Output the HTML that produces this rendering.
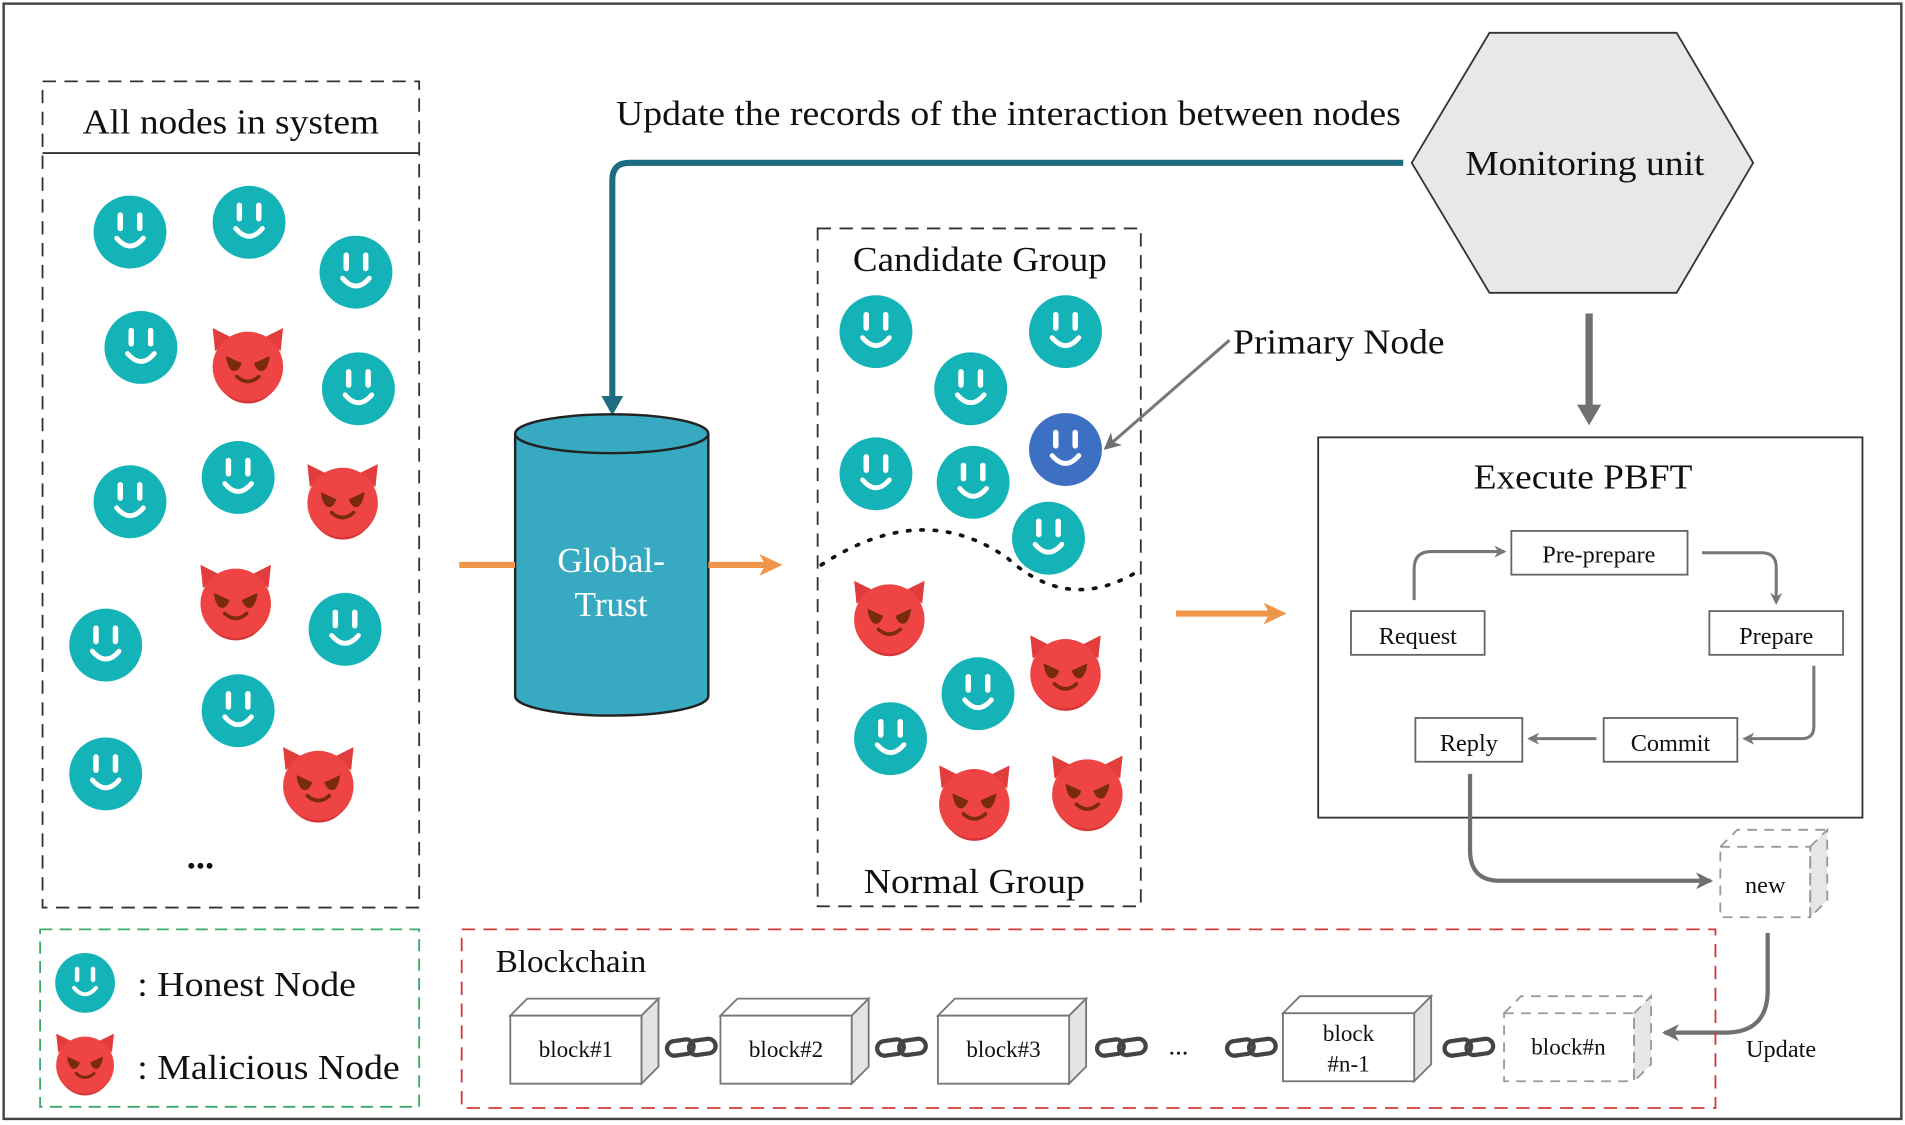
<!DOCTYPE html>
<html><head><meta charset="utf-8"><style>
html,body{margin:0;padding:0;background:#fff;}
svg{display:block;}
text{font-family:"Liberation Serif",serif;fill:#111;}
</style></head><body>
<svg width="1905" height="1125" viewBox="0 0 1568 926" xmlns="http://www.w3.org/2000/svg">
<defs>
<g id="sm">
<circle r="30" fill="#13b3b8"/>
<line x1="-8" y1="-14" x2="-8" y2="-3" stroke="#fff" stroke-width="4.5" stroke-linecap="round"/>
<line x1="8" y1="-14" x2="8" y2="-3" stroke="#fff" stroke-width="4.5" stroke-linecap="round"/>
<path d="M-11 5 Q0 18 11 5" fill="none" stroke="#fff" stroke-width="4" stroke-linecap="round"/>
</g>
<g id="smb">
<circle r="30" fill="#3d6fc2"/>
<line x1="-8" y1="-14" x2="-8" y2="-3" stroke="#fff" stroke-width="4.5" stroke-linecap="round"/>
<line x1="8" y1="-14" x2="8" y2="-3" stroke="#fff" stroke-width="4.5" stroke-linecap="round"/>
<path d="M-11 5 Q0 18 11 5" fill="none" stroke="#fff" stroke-width="4" stroke-linecap="round"/>
</g>
<g id="dv">
<path d="M-27 -13 L-29 -32 L-13 -24 Z" fill="#e23d3d"/>
<path d="M27 -13 L29 -32 L13 -24 Z" fill="#e23d3d"/>
<circle r="29" fill="#ee4444"/>
<path d="M-22 18 A29 29 0 0 0 22 18 A26 26 0 0 1 -22 18Z" fill="#d63636"/>
<path d="M-18 -9 L-5 -3 Q-8 5 -13 3 Q-17 0 -18 -9Z" fill="#7a2a0e"/>
<path d="M18 -9 L5 -3 Q8 5 13 3 Q17 0 18 -9Z" fill="#7a2a0e"/>
<path d="M-9 8 Q0 16 9 8" fill="none" stroke="#7a2a0e" stroke-width="3" stroke-linecap="round"/>
</g>
<g id="ch" fill="none" stroke="#444" stroke-width="3.5">
<rect x="-20" y="-7" width="22" height="12" rx="6" transform="rotate(-8)"/>
<rect x="-2" y="-5" width="22" height="12" rx="6" transform="rotate(-8)"/>
</g>
<marker id="ga" markerWidth="10" markerHeight="10" refX="8" refY="5" orient="auto" markerUnits="userSpaceOnUse"><path d="M0 0 L10 5 L0 10 L3 5Z" fill="#777"/></marker>
<marker id="gb" markerWidth="14" markerHeight="14" refX="12" refY="7" orient="auto" markerUnits="userSpaceOnUse"><path d="M0 0 L14 7 L0 14 L4 7Z" fill="#707070"/></marker>
</defs>
<rect x="3" y="3" width="1562" height="918" fill="#fff" stroke="#444" stroke-width="2"/>

<rect x="35" y="67" width="310" height="680" fill="none" stroke="#333" stroke-width="1.5" stroke-dasharray="11 7"/>
<line x1="35" y1="126" x2="345" y2="126" stroke="#333" stroke-width="1.5"/>
<text x="68" y="110" font-size="29" textLength="244" lengthAdjust="spacingAndGlyphs">All nodes in system</text>
<use href="#sm" x="107" y="191"/><use href="#sm" x="205" y="183"/><use href="#sm" x="293" y="224"/>
<use href="#sm" x="116" y="286"/><use href="#dv" x="204" y="302"/><use href="#sm" x="295" y="320"/>
<use href="#sm" x="107" y="413"/><use href="#sm" x="196" y="393"/><use href="#dv" x="282" y="414"/>
<use href="#dv" x="194" y="497"/><use href="#sm" x="87" y="531"/><use href="#sm" x="284" y="518"/>
<use href="#sm" x="196" y="585"/><use href="#sm" x="87" y="637"/><use href="#dv" x="262" y="647"/>
<text x="165" y="715" font-size="30" text-anchor="middle" font-weight="bold">...</text>

<rect x="33" y="765" width="312" height="146" fill="none" stroke="#3aaa6a" stroke-width="1.5" stroke-dasharray="10 6"/>
<use href="#sm" transform="translate(70 809) scale(0.82)"/>
<text x="113" y="820" font-size="29" textLength="180" lengthAdjust="spacingAndGlyphs">: Honest Node</text>
<use href="#dv" transform="translate(70 877) scale(0.82)"/>
<text x="113" y="888" font-size="29" textLength="216" lengthAdjust="spacingAndGlyphs">: Malicious Node</text>

<text x="507" y="103" font-size="29" textLength="646" lengthAdjust="spacingAndGlyphs">Update the records of the interaction between nodes</text>
<path d="M1155 134 L518 134 Q504 134 504 148 L504 330" fill="none" stroke="#1e6c80" stroke-width="5"/>
<path d="M495 326 L513 326 L504 342Z" fill="#1e6c80"/>

<polygon points="1162,134 1226,27 1380,27 1443,134 1380,241 1226,241" fill="#e8e8e8" stroke="#333" stroke-width="1.5"/>
<text x="1206" y="144" font-size="29" textLength="197" lengthAdjust="spacingAndGlyphs">Monitoring unit</text>
<line x1="1308" y1="258" x2="1308" y2="336" stroke="#707070" stroke-width="6"/>
<path d="M1298 333 L1318 333 L1308 350Z" fill="#707070"/>

<path d="M424 357 L424 573 A79.5 16 0 0 0 583 573 L583 357" fill="#37aac2" stroke="#222" stroke-width="2"/>
<ellipse cx="503.5" cy="357" rx="79.5" ry="16" fill="#37aac2" stroke="#222" stroke-width="2"/>
<text x="503" y="471" font-size="29" text-anchor="middle" style="fill:#fff">Global-</text>
<text x="503" y="507" font-size="29" text-anchor="middle" style="fill:#fff">Trust</text>
<line x1="378" y1="465" x2="424" y2="465" stroke="#f0964a" stroke-width="5"/>
<line x1="583" y1="465" x2="634" y2="465" stroke="#f0964a" stroke-width="5"/>
<path d="M625 456 L644 465 L625 474 L630 465Z" fill="#f0964a"/>

<rect x="673" y="188" width="266" height="558" fill="none" stroke="#333" stroke-width="1.5" stroke-dasharray="11 7"/>
<text x="702" y="223" font-size="29" textLength="209" lengthAdjust="spacingAndGlyphs">Candidate Group</text>
<text x="711" y="735" font-size="29" textLength="182" lengthAdjust="spacingAndGlyphs">Normal Group</text>
<path d="M676 465 Q760 410 830 460 Q880 505 937 470" fill="none" stroke="#111" stroke-width="3" stroke-dasharray="2 9" stroke-linecap="round"/>
<use href="#sm" x="721" y="273"/><use href="#sm" x="877" y="273"/><use href="#sm" x="799" y="320"/>
<use href="#smb" x="877" y="370"/><use href="#sm" x="721" y="390"/><use href="#sm" x="801" y="397"/>
<use href="#sm" x="863" y="443"/>
<use href="#dv" x="732" y="510"/><use href="#dv" x="877" y="555"/><use href="#sm" x="805" y="571"/>
<use href="#sm" x="733" y="608"/><use href="#dv" x="802" y="662"/><use href="#dv" x="895" y="654"/>
<text x="1015" y="291" font-size="29" textLength="174" lengthAdjust="spacingAndGlyphs">Primary Node</text>
<line x1="1012" y1="280" x2="910" y2="369" stroke="#777" stroke-width="2.5" marker-end="url(#gb)"/>

<line x1="968" y1="505" x2="1048" y2="505" stroke="#f0964a" stroke-width="5"/>
<path d="M1040 496 L1059 505 L1040 514 L1045 505Z" fill="#f0964a"/>

<rect x="1085" y="360" width="448" height="313" fill="#fff" stroke="#333" stroke-width="1.5"/>
<text x="1213" y="402" font-size="29" textLength="180" lengthAdjust="spacingAndGlyphs">Execute PBFT</text>
<g fill="none" stroke="#666" stroke-width="1.5">
<rect x="1244" y="437" width="145" height="36" fill="#fff"/>
<rect x="1112" y="503" width="110" height="36" fill="#fff"/>
<rect x="1407" y="503" width="110" height="36" fill="#fff"/>
<rect x="1320" y="591" width="110" height="36" fill="#fff"/>
<rect x="1165" y="591" width="88" height="36" fill="#fff"/>
</g>
<g font-size="20" text-anchor="middle">
<text x="1316" y="463">Pre-prepare</text>
<text x="1167" y="530">Request</text>
<text x="1462" y="530">Prepare</text>
<text x="1375" y="618">Commit</text>
<text x="1209" y="618">Reply</text>
</g>
<g fill="none" stroke="#777" stroke-width="2.5">
<path d="M1164 494 L1164 468 Q1164 454 1178 454 L1238 454" marker-end="url(#ga)"/>
<path d="M1401 455 L1450 455 Q1462 455 1462 467 L1462 496" marker-end="url(#ga)"/>
<path d="M1493 548 L1493 598 Q1493 608 1483 608 L1436 608" marker-end="url(#ga)"/>
<path d="M1314 608 L1259 608" marker-end="url(#ga)"/>
</g>
<path d="M1210 637 L1210 700 Q1210 725 1235 725 L1408 725" fill="none" stroke="#707070" stroke-width="3.5" marker-end="url(#gb)"/>

<g stroke="#999" stroke-width="1.5" stroke-dasharray="8 6">
<polygon points="1490,697 1504,683 1504,741 1490,755" fill="#e6e6e6"/>
<path d="M1416 697 L1430 683 L1504 683" fill="none"/>
<rect x="1416" y="697" width="74" height="58" fill="none"/>
</g>
<text x="1453" y="735" font-size="20" text-anchor="middle">new</text>
<path d="M1455 768 L1455 815 Q1455 850 1420 850 L1370 850" fill="none" stroke="#707070" stroke-width="3.5" marker-end="url(#gb)"/>
<text x="1466" y="870" font-size="20" text-anchor="middle">Update</text>

<rect x="380" y="765" width="1032" height="147" fill="none" stroke="#d23a3a" stroke-width="1.5" stroke-dasharray="11 7"/>
<text x="408" y="800" font-size="26" textLength="124" lengthAdjust="spacingAndGlyphs">Blockchain</text>
<g stroke="#777" stroke-width="1.5">
<polygon points="420,836 434,822 542,822 528,836" fill="#fff"/><polygon points="528,836 542,822 542,878 528,892" fill="#e4e4e4"/><rect x="420" y="836" width="108" height="56" fill="#fff"/>
<polygon points="593,836 607,822 715,822 701,836" fill="#fff"/><polygon points="701,836 715,822 715,878 701,892" fill="#e4e4e4"/><rect x="593" y="836" width="108" height="56" fill="#fff"/>
<polygon points="772,836 786,822 894,822 880,836" fill="#fff"/><polygon points="880,836 894,822 894,878 880,892" fill="#e4e4e4"/><rect x="772" y="836" width="108" height="56" fill="#fff"/>
<polygon points="1056,834 1070,820 1178,820 1164,834" fill="#fff"/><polygon points="1164,834 1178,820 1178,876 1164,890" fill="#e4e4e4"/><rect x="1056" y="834" width="108" height="56" fill="#fff"/>
</g>
<g stroke="#999" stroke-width="1.5" stroke-dasharray="8 6">
<polygon points="1345,834 1359,820 1359,876 1345,890" fill="#e6e6e6"/>
<path d="M1238 834 L1252 820 L1359 820" fill="none"/>
<rect x="1238" y="834" width="107" height="56" fill="none"/>
</g>
<g font-size="19" text-anchor="middle">
<text x="474" y="870">block#1</text>
<text x="647" y="870">block#2</text>
<text x="826" y="870">block#3</text>
<text x="1110" y="857">block</text>
<text x="1110" y="882">#n-1</text>
<text x="1291" y="868">block#n</text>
</g>
<use href="#ch" x="569" y="862"/><use href="#ch" x="742" y="862"/><use href="#ch" x="923" y="862"/>
<use href="#ch" x="1030" y="862"/><use href="#ch" x="1209" y="862"/>
<text x="970" y="868" font-size="22" text-anchor="middle">...</text>
</svg>
</body></html>
